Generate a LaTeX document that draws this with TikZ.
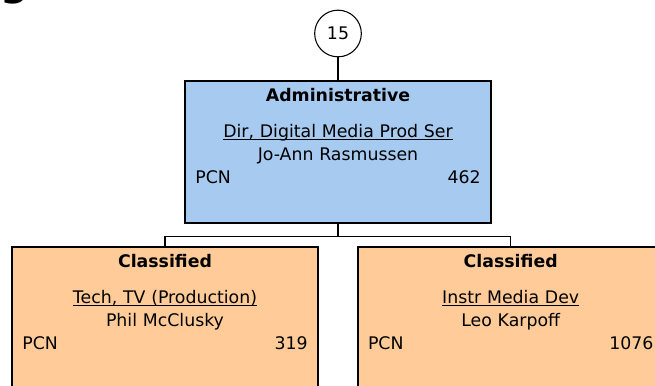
\documentclass[tikz,border=0pt]{standalone}
\usepackage{fontspec}
\setmainfont{DejaVu Sans}
\usepackage{tikz}
\usetikzlibrary{calc,positioning}

\definecolor{admfill}{RGB}{166,202,240}
\definecolor{clsfill}{RGB}{255,204,153}

\begin{document}
\begin{tikzpicture}[
    x=0.75pt, y=-0.75pt,
    font=\fontsize{13}{17.25}\selectfont,
    post/.style={draw=black, line width=1.5pt, minimum width=229.5pt, minimum height=106.5pt, inner sep=0pt},
    adm/.style={post, fill=admfill},
    cls/.style={post, fill=clsfill},
    lines/.style={anchor=base, text width=214pt, align=center, inner sep=0pt},
    num/.style={circle, draw=black, line width=0.8pt, minimum size=35pt, inner sep=0pt},
    link/.style={line width=1.5pt},
    bar/.style={line width=1pt},
  ]
    \useasboundingbox (0,0) rectangle (655,385);

    % cut-off heading above the chart
    \node[anchor=base west, inner sep=0pt, font=\fontsize{30}{30}\bfseries\selectfont] (head) at (0,-4.4) {g};

    \node[num] (n15) at (338,33.5) {15};

    \node[adm] (dir) at (338,152) {};
    \node[lines] (dirtxt) at ($(dir.north)+(0,21.5)$) {
      \textbf{Administrative}\\[9.4pt]
      \underline{\smash{Dir, Digital Media Prod Ser}}\\
      Jo-Ann Rasmussen\\
      PCN\hfill 462
    };

    \node[cls] (tech) at (165,318) {};
    \node[lines] (techtxt) at ($(tech.north)+(0,21.5)$) {
      \textbf{Classified}\\[9.4pt]
      \underline{\smash{Tech, TV (Production)}}\\
      Phil McClusky\\
      PCN\hfill 319
    };

    \node[cls] (media) at (510.7,318) {};
    \node[lines] (mediatxt) at ($(media.north)+(0,21.5)$) {
      \textbf{Classified}\\[9.4pt]
      \underline{\smash{Instr Media Dev}}\\
      Leo Karpoff\\
      PCN\hfill 1076
    };

    \coordinate (split) at ($(dir.south)+(0,12.7)$);

    \draw[link] (n15) -- (dir.north);
    \draw[link] (dir.south) -- (split);
    \draw[bar] (tech.north) |- (split) -| (media.north);
  \end{tikzpicture}
\end{document}
